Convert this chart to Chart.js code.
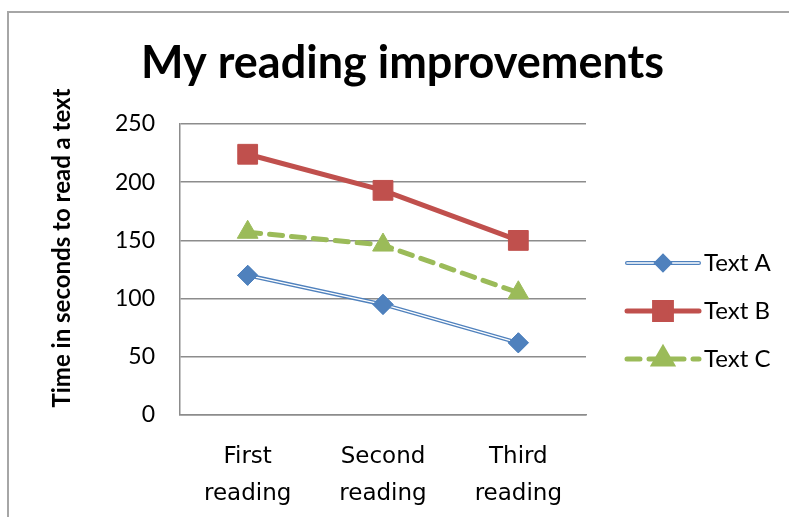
<!DOCTYPE html>
<html>
<head>
<meta charset="utf-8">
<script src="https://cdn.jsdelivr.net/npm/chart.js@4.4.0/dist/chart.umd.min.js"></script>
<style>
  html, body { margin: 0; padding: 0; background: #fff; }
  #wrap { position: relative; width: 789px; height: 517px; overflow: hidden; }
  #frame { position: absolute; left: 7px; top: 11px; right: -10px; bottom: -10px;
           border-left: 2px solid #a6a6a6; border-top: 2px solid #a6a6a6; }
  canvas { position: absolute; left: 0; top: 0; }
</style>
</head>
<body>
<div id="wrap">
  <div id="frame"></div>
  <canvas id="chart" width="789" height="517"></canvas>
</div>
<script>
// Chart data
const readings = [['First', 'reading'], ['Second', 'reading'], ['Third', 'reading']];
const textA = [120, 95, 62];
const textB = [224, 193, 150];
const textC = [157, 146, 105];
const yMin = 0;
const yMax = 250;
const yStep = 50;
const chartTitle = 'My reading improvements';
const yTitle = 'Time in seconds to read a text';

const BLUE = '#4F81BD';
const RED = '#C0504D';
const GREEN = '#9BBB59';
const GRID = '#8c8c8c';

// White core line for Text A (double line look), then redraw its markers on top
const doubleLinePlugin = {
  id: 'doubleLine',
  afterDatasetDraw(chart, args) {
    if (args.index !== 0) return;
    const ctx = chart.ctx;
    const pts = args.meta.data;
    ctx.save();
    ctx.strokeStyle = '#ffffff';
    ctx.lineWidth = 1.4;
    ctx.lineJoin = 'round';
    ctx.beginPath();
    pts.forEach((p, i) => i ? ctx.lineTo(p.x, p.y) : ctx.moveTo(p.x, p.y));
    ctx.stroke();
    ctx.restore();
    pts.forEach(p => p.draw(ctx, chart.chartArea));
  }
};

// Chart title and rotated y axis title
const titlesPlugin = {
  id: 'titles',
  afterDraw(chart) {
    const ctx = chart.ctx;
    const area = chart.chartArea;
    ctx.save();
    ctx.fillStyle = '#000';
    ctx.textAlign = 'center';
    ctx.textBaseline = 'middle';
    ctx.font = 'bold 45px Lato';
    ctx.fillText(chartTitle, chart.width / 2 + 8, area.top - 61);
    ctx.translate(area.left - 118, area.top + 124);
    ctx.rotate(-Math.PI / 2);
    ctx.font = 'bold 24px Lato';
    ctx.fillText(yTitle, 0, 0);
    ctx.restore();
  }
};

// Legend on the right with line + marker symbols
const lineLegendPlugin = {
  id: 'lineLegend',
  afterDraw(chart) {
    const ctx = chart.ctx;
    const area = chart.chartArea;
    const x0 = area.right + 41;
    const x1 = x0 + 72;
    let y = area.top + 139;
    chart.data.datasets.forEach(ds => {
      ctx.save();
      ctx.lineCap = 'round';
      ctx.strokeStyle = ds.borderColor;
      ctx.lineWidth = ds.borderWidth;
      ctx.setLineDash(ds.borderDash || []);
      ctx.beginPath();
      ctx.moveTo(x0, y);
      ctx.lineTo(x1, y);
      ctx.stroke();
      if (ds.doubleLine) {
        ctx.strokeStyle = '#fff';
        ctx.lineWidth = 1.6;
        ctx.beginPath();
        ctx.moveTo(x0, y);
        ctx.lineTo(x1, y);
        ctx.stroke();
      }
      ctx.setLineDash([]);
      ctx.fillStyle = ds.pointBackgroundColor;
      ctx.strokeStyle = ds.pointBorderColor;
      Chart.helpers.drawPoint(ctx, {
        pointStyle: ds.pointStyle,
        radius: ds.pointRadius * 0.85,
        rotation: 0,
        borderWidth: 1
      }, (x0 + x1) / 2, y);
      ctx.fillStyle = '#000';
      ctx.font = '24px Lato';
      ctx.textAlign = 'left';
      ctx.textBaseline = 'middle';
      ctx.fillText(ds.label, x1 + 5, y);
      ctx.restore();
      y += 48;
    });
  }
};

const ctx = document.getElementById('chart').getContext('2d');
window.readingChart = new Chart(ctx, {
  type: 'line',
  data: {
    labels: readings,
    datasets: [
      {
        label: 'Text A',
        data: textA,
        borderColor: BLUE,
        borderWidth: 4,
        doubleLine: true,
        pointStyle: 'rectRot',
        pointRadius: 10,
        pointBackgroundColor: BLUE,
        pointBorderColor: BLUE,
        pointBorderWidth: 1,
        tension: 0
      },
      {
        label: 'Text B',
        data: textB,
        borderColor: RED,
        borderWidth: 5,
        pointStyle: 'rect',
        pointRadius: 14,
        pointBackgroundColor: RED,
        pointBorderColor: RED,
        pointBorderWidth: 1,
        tension: 0
      },
      {
        label: 'Text C',
        data: textC,
        borderColor: GREEN,
        borderWidth: 5,
        borderDash: [13, 9],
        borderCapStyle: 'round',
        pointStyle: 'triangle',
        pointRadius: 12,
        pointBackgroundColor: GREEN,
        pointBorderColor: GREEN,
        pointBorderWidth: 1,
        tension: 0
      }
    ]
  },
  options: {
    responsive: false,
    animation: false,
    layout: {
      padding: { left: 0, right: 203, top: 124, bottom: 0 }
    },
    plugins: {
      legend: { display: false },
      tooltip: { enabled: false },
      title: { display: false }
    },
    scales: {
      x: {
        offset: true,
        afterFit: s => { s.height = 102; },
        grid: { display: false, drawTicks: false },
        border: { display: true, color: GRID, width: 1.5 },
        ticks: {
          padding: 23,
          color: '#000',
          font: { family: 'DejaVu Sans', size: 23, lineHeight: 1.63 }
        }
      },
      y: {
        min: yMin,
        max: yMax,
        afterFit: s => { s.width = 180; },
        grid: { color: GRID, lineWidth: 1.5, drawTicks: false },
        border: { display: true, color: GRID, width: 1.5 },
        ticks: {
          stepSize: yStep,
          padding: 25,
          color: '#000',
          font: { family: 'Lato', size: 23 }
        }
      }
    }
  },
  plugins: [doubleLinePlugin, titlesPlugin, lineLegendPlugin]
});
</script>
</body>
</html>
